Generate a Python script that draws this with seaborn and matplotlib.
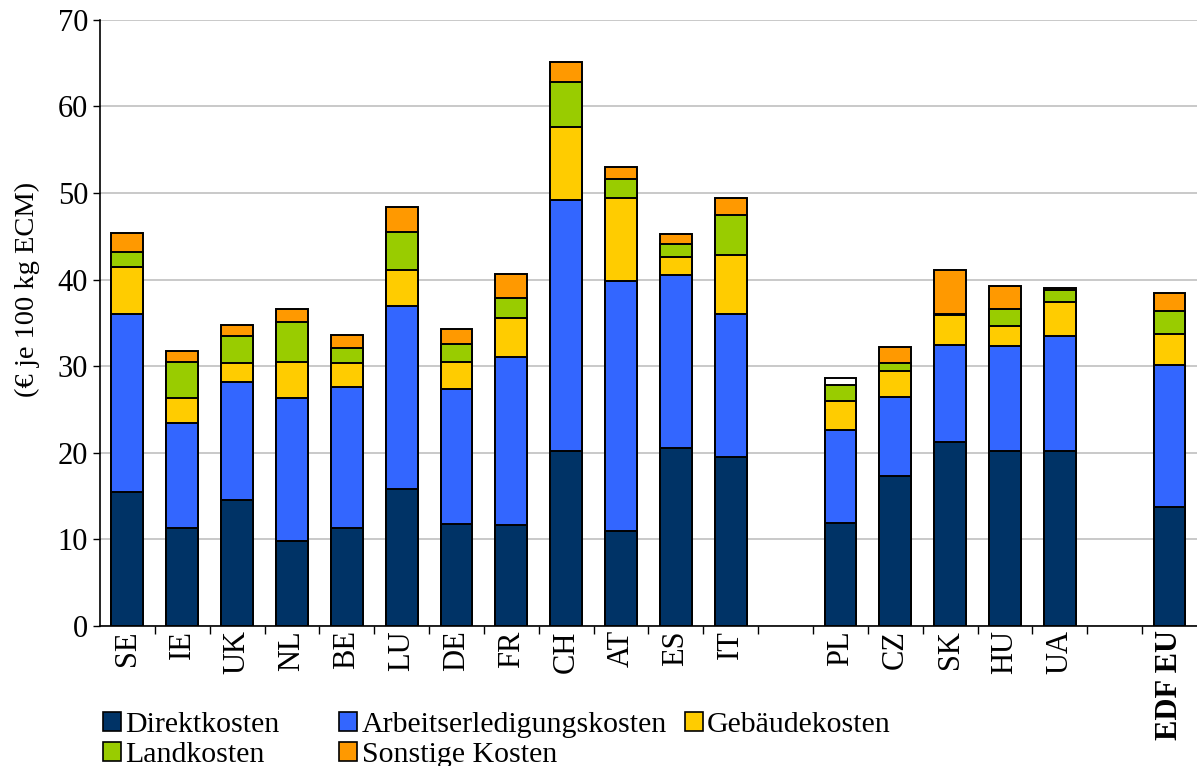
import pandas as pd
import seaborn as sns
import matplotlib.pyplot as plt
from matplotlib.patches import Patch
from matplotlib.ticker import MultipleLocator

# Data (EUR per 100 kg ECM)
countries = ["SE", "IE", "UK", "NL", "BE", "LU", "DE", "FR", "CH", "AT", "ES", "IT",
             "PL", "CZ", "SK", "HU", "UA", "EDF EU"]
order = ["SE", "IE", "UK", "NL", "BE", "LU", "DE", "FR", "CH", "AT", "ES", "IT", " ",
         "PL", "CZ", "SK", "HU", "UA", "  ", "EDF EU"]

direktkosten = [15.5, 11.3, 14.6, 9.8, 11.3, 15.8, 11.8, 11.7, 20.2, 11.0, 20.6, 19.5,
                11.9, 17.3, 21.3, 20.2, 20.2, 13.7]
arbeitskosten = [20.5, 12.1, 13.6, 16.5, 16.3, 21.2, 15.6, 19.4, 29.0, 28.9, 19.9, 16.5,
                 10.7, 9.2, 11.2, 12.1, 13.3, 16.4]
gebaeudekosten = [5.5, 2.9, 2.2, 4.2, 2.8, 4.1, 3.1, 4.5, 8.4, 9.5, 2.1, 6.9,
                  3.4, 3.0, 3.4, 2.4, 3.9, 3.6]
landkosten = [1.7, 4.2, 3.1, 4.6, 1.7, 4.4, 2.1, 2.3, 5.2, 2.2, 1.5, 4.6,
              1.8, 0.9, 0.1, 1.9, 1.4, 2.7]
sonstige = [2.2, 1.3, 1.3, 1.5, 1.5, 2.9, 1.7, 2.8, 2.3, 1.4, 1.2, 1.9,
            0.8, 1.8, 5.1, 2.7, 0.2, 2.1]

series_names = ["Direktkosten", "Arbeitserledigungskosten", "Gebäudekosten",
                "Landkosten", "Sonstige Kosten"]
series_values = [direktkosten, arbeitskosten, gebaeudekosten, landkosten, sonstige]
colors = ["#003366", "#3366ff", "#ffcc00", "#99cc00", "#ff9900"]

df = pd.DataFrame(dict(zip(series_names, series_values)), index=countries)
cum = df.cumsum(axis=1)

plt.rcParams["font.family"] = ["Liberation Serif", "DejaVu Serif"]

fig = plt.figure(figsize=(11.97, 7.66), dpi=100)
ax = fig.add_axes([0.0835, 0.1828, 0.9165, 0.7912])

# Draw stacked bars: tallest cumulative layer first
for name, col in zip(series_names[::-1], colors[::-1]):
    sns.barplot(x=cum.index, y=cum[name].values, order=order, color=col,
                width=0.58, edgecolor="black", linewidth=1.4, saturation=1,
                errorbar=None, ax=ax, zorder=3)

# PL top segment is shown white in the original
pl_pos = order.index("PL")
for p in ax.containers[0].patches:
    if abs(p.get_x() + p.get_width() / 2 - pl_pos) < 0.1:
        p.set_facecolor("white")

ax.set_xlim(-0.5, len(order) - 0.5)
ax.set_ylim(0, 70)
ax.yaxis.set_major_locator(MultipleLocator(10))
ax.grid(axis="y", color="#c0c0c0", linewidth=1.2, zorder=0)
ax.set_axisbelow(True)

for s in ["top", "right"]:
    ax.spines[s].set_visible(False)
ax.spines["left"].set_linewidth(1.2)
ax.spines["bottom"].set_linewidth(1.2)

ax.set_xticks(range(len(order)))
ax.set_xticklabels(order, rotation=90, fontsize=22)
ax.tick_params(axis="x", which="major", length=0, pad=3)
ax.set_xticks([i + 0.5 for i in range(len(order) - 1)], minor=True)
ax.tick_params(axis="x", which="minor", length=6, width=1, direction="out")
ax.tick_params(axis="y", labelsize=22, length=5, width=1)
for lbl in ax.get_xticklabels():
    if lbl.get_text() == "EDF EU":
        lbl.set_fontweight("bold")

ax.set_xlabel("")
ax.set_ylabel("(€ je 100 kg ECM)", fontsize=20.5)
ax.yaxis.set_label_coords(-0.055, 0.555)

handles = [Patch(facecolor=c, edgecolor="black", linewidth=1.2) for c in colors]
leg_kw = dict(loc="upper left", frameon=False, fontsize=21.5, handlelength=0.6,
              handleheight=0.6, handletextpad=0.15, labelspacing=0.12, borderaxespad=0,
              borderpad=0)
idx = [0, 3, 1, 4]
fig.legend([handles[i] for i in idx], [series_names[i] for i in idx],
           bbox_to_anchor=(0.086, 0.070), ncol=2, columnspacing=2.0, **leg_kw)
fig.legend([handles[2]], [series_names[2]], bbox_to_anchor=(0.572, 0.070), **leg_kw)

fig.savefig("out.png", dpi=100)
